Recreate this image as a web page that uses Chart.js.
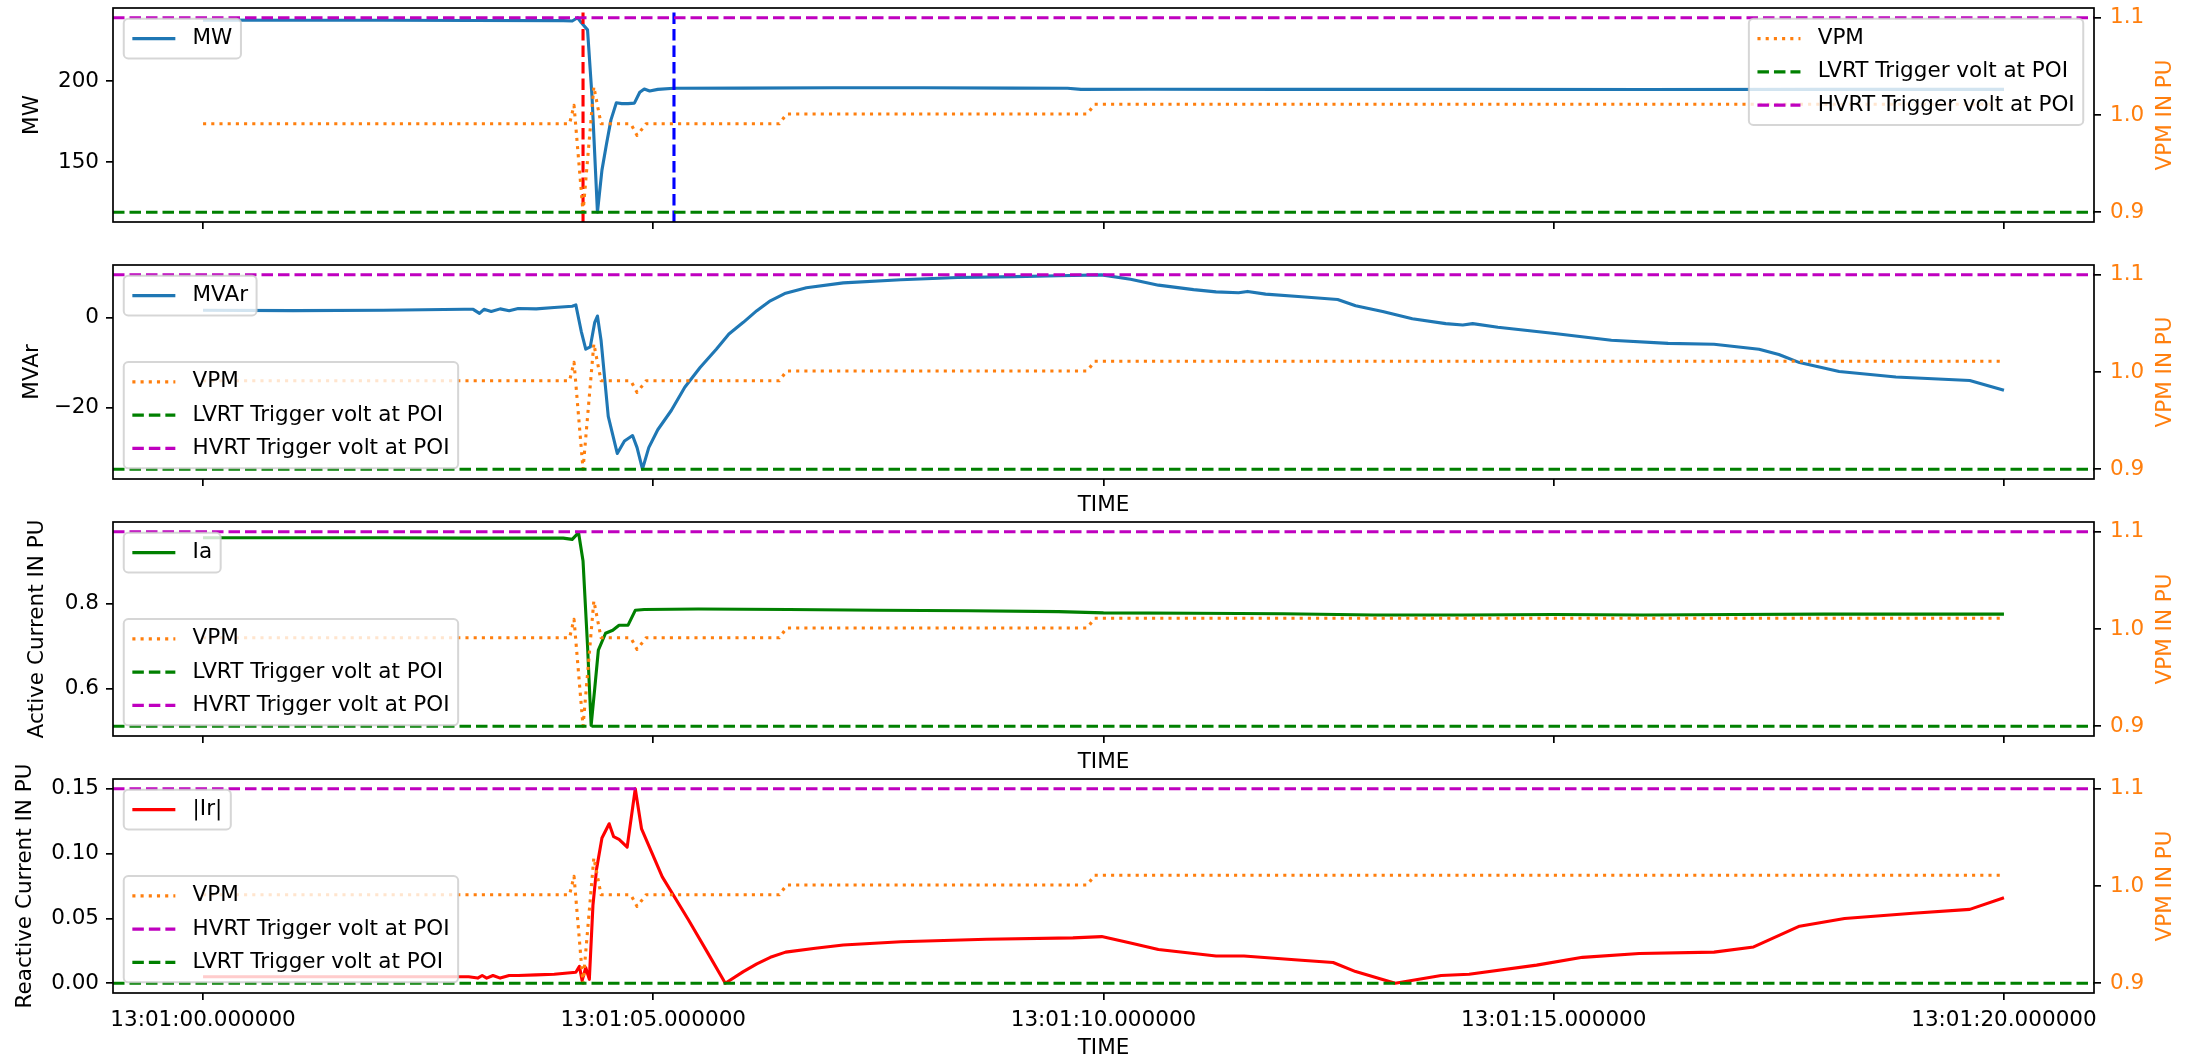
<!DOCTYPE html>
<html lang="en">
<head>
    <meta charset="UTF-8">
    <title>LVRT / HVRT event – MW, MVAr, Ia, Ir vs VPM</title>
    <script src="https://cdn.jsdelivr.net/npm/chart.js"></script>
    <style>
        html, body { margin: 0; padding: 0; background: #fff; }
        .figure { position: relative; width: 2194px; height: 1063px; overflow: hidden; }
        .figure canvas { position: absolute; left: 0; }
    </style>
</head>
<body>
    <div class="figure">
        <canvas id="mwChart" width="2194" height="257" style="top:0px"></canvas>
        <canvas id="mvarChart" width="2194" height="263" style="top:257px"></canvas>
        <canvas id="iaChart" width="2194" height="273" style="top:504px"></canvas>
        <canvas id="irChart" width="2194" height="312" style="top:751px"></canvas>
    </div>

    <script>
        // ---- data (time in seconds after 13:01:00) ----
        const X_MIN = -1, X_MAX = 21;
        const X_TICKS = [0, 5, 10, 15, 20];
        const X_TICK_LABELS = ['13:01:00.000000', '13:01:05.000000', '13:01:10.000000', '13:01:15.000000', '13:01:20.000000'];

        // voltage at POI (right axis, pu)
        const VPM_TIME  = [0, 4.07, 4.12, 4.22, 4.34, 4.42, 4.75, 4.82, 4.92, 6.40, 6.48, 9.82, 9.90, 20];
        const VPM_VALUE = [0.991, 0.991, 1.010, 0.900, 1.029, 0.991, 0.991, 0.979, 0.991, 0.991, 1.001, 1.001, 1.011, 1.011];
        const VPM_AXIS = [0.89, 1.11];
        const VPM_TICKS = [0.9, 1.0, 1.1];
        const VPM_TICK_LABELS = ['0.9', '1.0', '1.1'];
        const LVRT_LEVEL = 0.9;
        const HVRT_LEVEL = 1.1;

        // fault start / recovery markers (top panel)
        const FAULT_TIME = 4.22;
        const RECOVERY_TIME = 5.23;

        // active power
        const MW_TIME  = [0, 1, 2, 3, 4.0, 4.1, 4.16, 4.2, 4.27, 4.32, 4.38, 4.43, 4.48, 4.53, 4.59, 4.65, 4.72, 4.79, 4.85, 4.90, 4.96, 5.05, 5.23, 6, 7, 8, 9, 9.6, 9.75, 10.5, 12, 14, 16, 18, 20];
        const MW_VALUE = [237.5, 237.4, 237.4, 237.3, 237.2, 237.0, 239.0, 236.0, 231.5, 190, 119, 145, 161, 176, 186.5, 186, 186, 186.3, 193, 195, 193.8, 194.8, 195.5, 195.6, 195.8, 195.8, 195.6, 195.5, 194.8, 194.9, 194.8, 194.8, 194.7, 194.8, 194.8];
        const MW_AXIS = [113, 245];
        const MW_TICKS = [150, 200];
        const MW_TICK_LABELS = ['150', '200'];

        // reactive power
        const MVAR_TIME  = [0, 1, 2, 2.9, 3.0, 3.07, 3.12, 3.2, 3.3, 3.4, 3.5, 3.7, 3.9, 4.1, 4.14, 4.2, 4.25, 4.3, 4.35, 4.38, 4.42, 4.5, 4.6, 4.68, 4.77, 4.82, 4.88, 4.95, 5.05, 5.2, 5.35, 5.52, 5.7, 5.84, 6.0, 6.15, 6.3, 6.47, 6.7, 7.11, 7.75, 8.38, 9.02, 9.5, 9.98, 10.3, 10.61, 11.0, 11.25, 11.5, 11.6, 11.8, 12.2, 12.6, 12.8, 13.1, 13.43, 13.8, 13.99, 14.1, 14.38, 15.01, 15.64, 16.27, 16.78, 17.28, 17.5, 17.73, 18.17, 18.8, 19.62, 20];
        const MVAR_VALUE = [1.7, 1.6, 1.7, 1.9, 1.9, 1.0, 1.9, 1.4, 2.0, 1.6, 2.1, 2.0, 2.3, 2.6, 2.9, -3.0, -7.0, -6.5, -1.0, 0.4, -5.0, -22.0, -30.3, -27.5, -26.3, -29.0, -33.8, -29.0, -25.0, -20.7, -15.5, -11.1, -7.0, -3.6, -1.0, 1.6, 3.8, 5.5, 6.7, 7.8, 8.5, 9.0, 9.2, 9.4, 9.6, 8.6, 7.3, 6.3, 5.8, 5.6, 5.9, 5.3, 4.7, 4.1, 2.7, 1.4, -0.2, -1.3, -1.6, -1.3, -2.1, -3.5, -5.0, -5.7, -5.9, -7.0, -8.2, -10.0, -12.0, -13.2, -14.0, -16.2];
        const MVAR_AXIS = [-36, 11.8];
        const MVAR_TICKS = [-20, 0];
        const MVAR_TICK_LABELS = ['\u221220', '0'];

        // active current
        const IA_TIME  = [0, 1, 2, 3, 4.0, 4.1, 4.17, 4.22, 4.27, 4.31, 4.35, 4.39, 4.47, 4.55, 4.62, 4.72, 4.8, 4.9, 5.5, 6.5, 7.5, 8.5, 9.5, 10, 11, 12, 13, 14, 15, 16, 17, 18, 19, 20];
        const IA_VALUE = [0.955, 0.955, 0.955, 0.954, 0.954, 0.951, 0.967, 0.900, 0.700, 0.513, 0.600, 0.690, 0.730, 0.737, 0.749, 0.749, 0.784, 0.786, 0.787, 0.786, 0.784, 0.783, 0.781, 0.778, 0.777, 0.776, 0.773, 0.773, 0.774, 0.773, 0.774, 0.775, 0.775, 0.775];
        const IA_AXIS = [0.488, 0.992];
        const IA_TICKS = [0.6, 0.8];
        const IA_TICK_LABELS = ['0.6', '0.8'];

        // reactive current magnitude
        const IR_TIME  = [0, 1, 2, 2.95, 3.05, 3.1, 3.15, 3.22, 3.3, 3.4, 3.5, 3.7, 3.9, 4.14, 4.18, 4.21, 4.25, 4.29, 4.33, 4.37, 4.43, 4.51, 4.56, 4.62, 4.71, 4.8, 4.87, 5.1, 5.39, 5.6, 5.8, 6.0, 6.15, 6.3, 6.47, 6.8, 7.11, 7.75, 8.7, 9.66, 9.98, 10.3, 10.61, 11.25, 11.56, 12.16, 12.55, 12.8, 13.24, 13.75, 14.06, 14.81, 15.32, 15.95, 16.78, 17.22, 17.73, 18.23, 18.99, 19.62, 20];
        const IR_VALUE = [0.005, 0.005, 0.005, 0.005, 0.004, 0.006, 0.004, 0.006, 0.004, 0.006, 0.006, 0.0065, 0.007, 0.0085, 0.013, 0.002, 0.012, 0.003, 0.060, 0.088, 0.112, 0.123, 0.113, 0.111, 0.105, 0.150, 0.119, 0.082, 0.049, 0.024, 0.000, 0.009, 0.015, 0.020, 0.024, 0.027, 0.0295, 0.032, 0.034, 0.035, 0.036, 0.031, 0.026, 0.021, 0.021, 0.018, 0.016, 0.009, 0.000, 0.006, 0.007, 0.014, 0.020, 0.023, 0.024, 0.028, 0.044, 0.050, 0.054, 0.057, 0.066];
        const IR_AXIS = [-0.0075, 0.1575];
        const IR_TICKS = [0, 0.05, 0.1, 0.15];
        const IR_TICK_LABELS = ['0.00', '0.05', '0.10', '0.15'];

        // ---- look ----
        const FONT_SIZE = 21.5;
        const LINE_W = 3.1;
        const DASHED = [11.5, 5];
        const DOTTED = [3.1, 5.1];
        const ORANGE = '#ff7f0e';
        const STYLES = {
            mw:   { label: 'MW', color: '#1f77b4', dash: [] },
            mvar: { label: 'MVAr', color: '#1f77b4', dash: [] },
            ia:   { label: 'Ia', color: '#008000', dash: [] },
            ir:   { label: '|Ir|', color: '#ff0000', dash: [] },
            vpm:  { label: 'VPM', color: ORANGE, dash: DOTTED },
            lvrt: { label: 'LVRT Trigger volt at POI', color: '#008000', dash: DASHED },
            hvrt: { label: 'HVRT Trigger volt at POI', color: '#bf00bf', dash: DASHED }
        };

        Chart.defaults.font.family = "'DejaVu Sans', 'Liberation Sans', sans-serif";
        Chart.defaults.font.size = FONT_SIZE;
        Chart.defaults.color = '#000';

        const pts = (ts, vs) => ts.map((t, i) => ({ x: t, y: vs[i] }));

        // chart.js reserves room for half a tick label at the ends; matplotlib does not
        function noLabelPadding(s) {
            s.paddingTop = 0;
            s.paddingBottom = 0;
            s.paddingLeft = 0;
            s.paddingRight = 0;
        }

        function lineSet(style, data, axis, order) {
            return {
                label: style.label,
                data: data,
                yAxisID: axis,
                borderColor: style.color,
                borderWidth: LINE_W,
                borderDash: style.dash,
                borderCapStyle: 'butt',
                borderJoinStyle: 'round',
                pointRadius: 0,
                tension: 0,
                fill: false,
                order: order
            };
        }

        function hLine(style, level, order) {
            return lineSet(style, [{ x: X_MIN, y: level }, { x: X_MAX, y: level }], 'y2', order);
        }

        function vLine(color, t, order) {
            return lineSet({ label: '', color: color, dash: DASHED },
                [{ x: t, y: VPM_AXIS[0] }, { x: t, y: VPM_AXIS[1] }], 'y2', order);
        }

        function xScale(showLabels, showTitle, height) {
            return {
                type: 'linear', position: 'bottom', min: X_MIN, max: X_MAX,
                afterBuildTicks: s => { s.ticks = X_TICKS.map(v => ({ value: v })); },
                afterFit: s => { s.height = height; noLabelPadding(s); },
                ticks: {
                    display: showLabels, autoSkip: false, maxRotation: 0, minRotation: 0,
                    padding: 8, color: '#000',
                    callback: (v, i) => X_TICK_LABELS[i]
                },
                grid: { drawOnChartArea: false, drawTicks: true, tickLength: 7, color: '#000', lineWidth: 1.7 },
                border: { display: false },
                title: { display: showTitle, text: 'TIME', color: '#000', padding: { top: 0, bottom: 2 } }
            };
        }

        function leftScale(range, ticks, labels, title, titlePad) {
            return {
                type: 'linear', position: 'left', min: range[0], max: range[1],
                afterBuildTicks: s => { s.ticks = ticks.map(v => ({ value: v })); },
                afterFit: s => { s.width = 113; noLabelPadding(s); },
                ticks: { padding: 7, color: '#000', callback: (v, i) => labels[i] },
                grid: { drawOnChartArea: false, drawTicks: true, tickLength: 7, color: '#000', lineWidth: 1.7 },
                border: { display: false },
                title: { display: true, text: title, color: '#000', padding: { top: titlePad, bottom: 0 } }
            };
        }

        function rightScale() {
            return {
                type: 'linear', position: 'right', min: VPM_AXIS[0], max: VPM_AXIS[1],
                afterBuildTicks: s => { s.ticks = VPM_TICKS.map(v => ({ value: v })); },
                afterFit: s => { s.width = 100; noLabelPadding(s); },
                ticks: { padding: 9, color: ORANGE, callback: (v, i) => VPM_TICK_LABELS[i] },
                grid: { drawOnChartArea: false, drawTicks: true, tickLength: 7, color: '#000', lineWidth: 1.7 },
                border: { display: false }
            };
        }

        // matplotlib-like legend box
        function drawLegend(ctx, area, loc, items) {
            const fs = FONT_SIZE;
            const pad = 0.4 * fs, rowH = 22.5, gap = 0.5 * fs;
            const hLen = 2 * fs, hPad = 0.8 * fs, axPad = 0.5 * fs;
            ctx.save();
            ctx.font = fs + "px 'DejaVu Sans'";
            const textW = Math.max(...items.map(it => ctx.measureText(it.label).width));
            const w = 2 * pad + hLen + hPad + textW;
            const h = 2 * pad + items.length * rowH + (items.length - 1) * gap;
            const x = loc.indexOf('left') >= 0 ? area.left + axPad : area.right - axPad - w;
            const y = loc.indexOf('upper') >= 0 ? area.top + axPad : area.bottom - axPad - h;

            ctx.globalAlpha = 0.8;
            ctx.beginPath();
            ctx.roundRect(x, y, w, h, 4.5);
            ctx.fillStyle = '#fff';
            ctx.fill();
            ctx.lineWidth = 2;
            ctx.strokeStyle = '#ccc';
            ctx.stroke();
            ctx.globalAlpha = 1;

            items.forEach((it, i) => {
                const cy = y + pad + rowH / 2 + i * (rowH + gap);
                ctx.beginPath();
                ctx.setLineDash(it.dash);
                ctx.lineCap = 'butt';
                ctx.strokeStyle = it.color;
                ctx.lineWidth = LINE_W;
                ctx.moveTo(x + pad, cy);
                ctx.lineTo(x + pad + hLen, cy);
                ctx.stroke();
                ctx.setLineDash([]);
                ctx.fillStyle = '#000';
                ctx.textAlign = 'left';
                ctx.textBaseline = 'middle';
                ctx.fillText(it.label, x + pad + hLen + hPad, cy);
            });
            ctx.restore();
        }

        function figurePlugin(legends) {
            return {
                id: 'figure',
                afterDatasetsDraw(chart) {
                    const ctx = chart.ctx;
                    const a = chart.chartArea;
                    // axes frame
                    ctx.save();
                    ctx.strokeStyle = '#000';
                    ctx.lineWidth = 1.7;
                    ctx.strokeRect(a.left, a.top, a.right - a.left, a.bottom - a.top);
                    // right axis title, reading bottom to top
                    ctx.translate(2165, (a.top + a.bottom) / 2);
                    ctx.rotate(-Math.PI / 2);
                    ctx.font = FONT_SIZE + "px 'DejaVu Sans'";
                    ctx.fillStyle = ORANGE;
                    ctx.textAlign = 'center';
                    ctx.textBaseline = 'middle';
                    ctx.fillText('VPM IN PU', 0, 0);
                    ctx.restore();
                    legends.forEach(l => drawLegend(ctx, a, l.loc, l.items));
                }
            };
        }

        function makePanel(id, cfg) {
            return new Chart(document.getElementById(id), {
                type: 'line',
                data: { datasets: cfg.datasets },
                options: {
                    responsive: false,
                    devicePixelRatio: 1,
                    animation: false,
                    events: [],
                    layout: { padding: { top: cfg.top, left: 0, right: 0, bottom: 0 } },
                    plugins: { legend: { display: false }, tooltip: { enabled: false } },
                    scales: { x: cfg.x, y: cfg.y, y2: rightScale() }
                },
                plugins: [figurePlugin(cfg.legends)]
            });
        }

        const vpmSeries = () => [
            hLine(STYLES.hvrt, HVRT_LEVEL, 0),
            hLine(STYLES.lvrt, LVRT_LEVEL, 1),
            lineSet(STYLES.vpm, pts(VPM_TIME, VPM_VALUE), 'y2', 2)
        ];
        const vrtItems = [STYLES.vpm, STYLES.lvrt, STYLES.hvrt];

        makePanel('mwChart', {
            top: 8,
            datasets: [
                ...vpmSeries(),
                vLine('#ff0000', FAULT_TIME, 3),
                vLine('#0000ff', RECOVERY_TIME, 3),
                lineSet(STYLES.mw, pts(MW_TIME, MW_VALUE), 'y', 4)
            ],
            x: xScale(false, false, 35),
            y: leftScale(MW_AXIS, MW_TICKS, MW_TICK_LABELS, 'MW', 20),
            legends: [
                { loc: 'upper left', items: [STYLES.mw] },
                { loc: 'upper right', items: vrtItems }
            ]
        });

        makePanel('mvarChart', {
            top: 8,
            datasets: [...vpmSeries(), lineSet(STYLES.mvar, pts(MVAR_TIME, MVAR_VALUE), 'y', 4)],
            x: xScale(false, true, 41),
            y: leftScale(MVAR_AXIS, MVAR_TICKS, MVAR_TICK_LABELS, 'MVAr', 20),
            legends: [
                { loc: 'upper left', items: [STYLES.mvar] },
                { loc: 'lower left', items: vrtItems }
            ]
        });

        makePanel('iaChart', {
            top: 18,
            datasets: [...vpmSeries(), lineSet(STYLES.ia, pts(IA_TIME, IA_VALUE), 'y', 4)],
            x: xScale(false, true, 41),
            y: leftScale(IA_AXIS, IA_TICKS, IA_TICK_LABELS, 'Active Current IN PU', 25),
            legends: [
                { loc: 'upper left', items: [STYLES.ia] },
                { loc: 'lower left', items: vrtItems }
            ]
        });

        makePanel('irChart', {
            top: 28,
            datasets: [...vpmSeries(), lineSet(STYLES.ir, pts(IR_TIME, IR_VALUE), 'y', 4)],
            x: xScale(true, true, 70),
            y: leftScale(IR_AXIS, IR_TICKS, IR_TICK_LABELS, 'Reactive Current IN PU', 13),
            legends: [
                { loc: 'upper left', items: [STYLES.ir] },
                { loc: 'lower left', items: [STYLES.vpm, STYLES.hvrt, STYLES.lvrt] }
            ]
        });
    </script>
</body>
</html>
